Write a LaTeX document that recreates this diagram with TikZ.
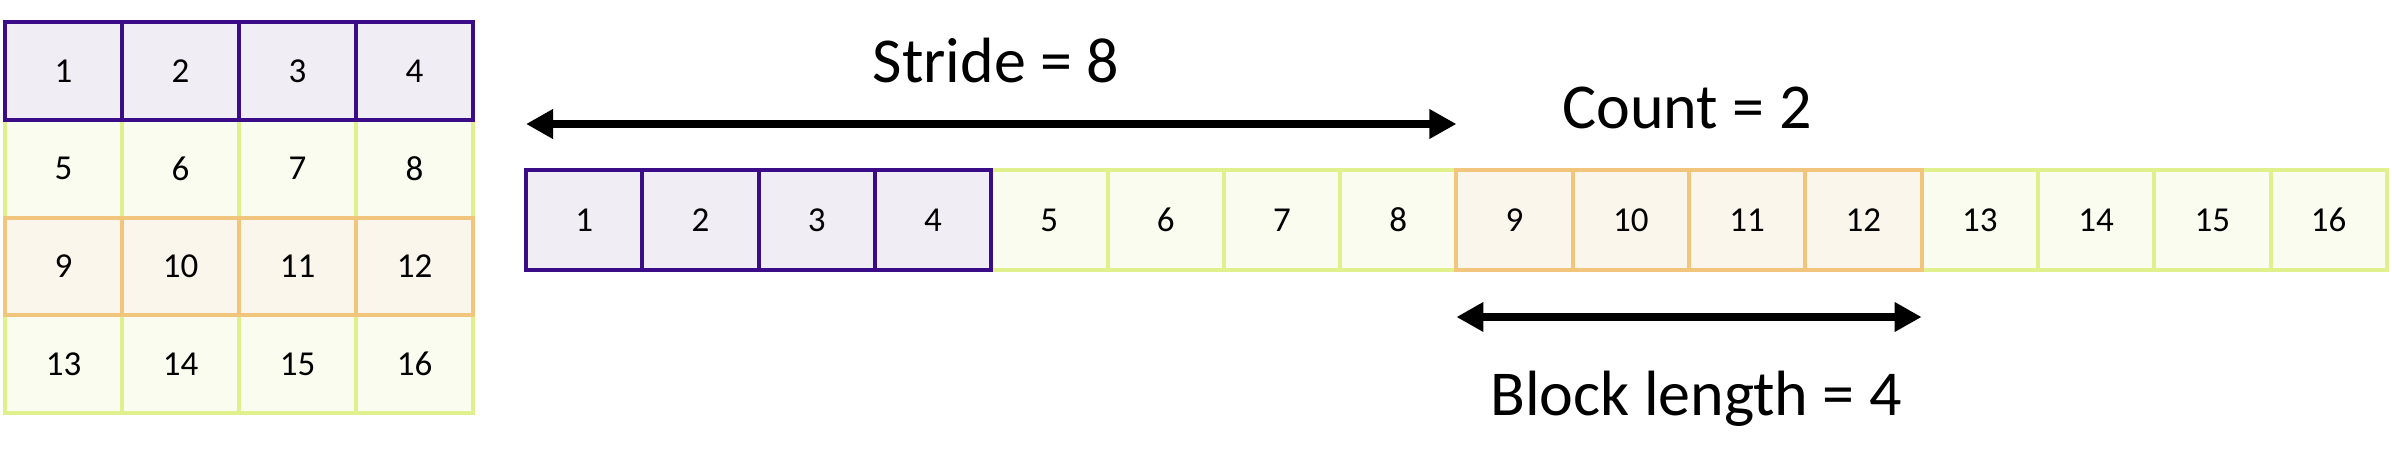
\documentclass[tikz,border=0pt]{standalone}
\usepackage{fontspec}
\setmainfont{Carlito}
\usetikzlibrary{arrows.meta}
\definecolor{pur}{HTML}{3A0C88}
\definecolor{purfill}{HTML}{F0EDF5}
\definecolor{grn}{HTML}{E0F08C}
\definecolor{grnfill}{HTML}{FAFCEF}
\definecolor{org}{HTML}{F2C57C}
\definecolor{orgfill}{HTML}{FBF6EC}
\begin{document}
\begin{tikzpicture}[x=1pt,y=-1pt,
  cellbase/.style={draw, line width=4pt, inner sep=0pt, outer sep=0pt,
    font=\fontsize{35}{40}\selectfont, anchor=north west},
  gridcell/.style={cellbase, minimum width=117pt, minimum height=97.75pt},
  stripcell/.style={cellbase, minimum width=116.3pt, minimum height=100pt},
  pcell/.style={draw=pur, fill=purfill},
  gcell/.style={draw=grn, fill=grnfill},
  ocell/.style={draw=org, fill=orgfill},
  dimarrow/.style={line width=8pt, {Triangle[width=28pt,length=27pt]}-{Triangle[width=28pt,length=27pt]}},
  biglabel/.style={font=\fontsize{64}{76}\selectfont, anchor=base, inner sep=0pt}
]
\path[use as bounding box] (0,0) rectangle (2392,472);

% ---- 4x4 grid ----
\foreach \r in {1,3}{\foreach \c in {0,...,3}{
  \pgfmathtruncatemacro{\n}{4*\r+\c+1}
  \node[gridcell, gcell] (g\n) at ({5+117*\c},{22+97.75*\r}) {\n};}}
\foreach \c in {0,...,3}{
  \pgfmathtruncatemacro{\n}{8+\c+1}
  \node[gridcell, ocell] (g\n) at ({5+117*\c},{22+97.75*2}) {\n};}
\foreach \c in {0,...,3}{
  \pgfmathtruncatemacro{\n}{\c+1}
  \node[gridcell, pcell] (g\n) at ({5+117*\c},22) {\n};}

% ---- strip ----
\foreach \i in {4,...,7,12,13,14,15}{
  \pgfmathtruncatemacro{\n}{\i+1}
  \node[stripcell, gcell] (s\n) at ({526+116.3*\i},170) {\n};}
\foreach \i in {8,...,11}{
  \pgfmathtruncatemacro{\n}{\i+1}
  \node[stripcell, ocell] (s\n) at ({526+116.3*\i},170) {\n};}
\foreach \i in {0,...,3}{
  \pgfmathtruncatemacro{\n}{\i+1}
  \node[stripcell, pcell] (s\n) at ({526+116.3*\i},170) {\n};}

% ---- dimension arrows ----
\draw[dimarrow] ([yshift=46pt]s1.north west) -- ([yshift=46pt]s8.north east);
\draw[dimarrow] ([yshift=-47pt]s9.south west) -- ([yshift=-47pt]s12.south east);

% ---- labels ----
\node[biglabel] (stride) at (996,82) {Stride = 8};
\node[biglabel] (count) at (1687,128) {Count = 2};
\node[biglabel] (block) at (1696,415) {Block length = 4};
\end{tikzpicture}
\end{document}
